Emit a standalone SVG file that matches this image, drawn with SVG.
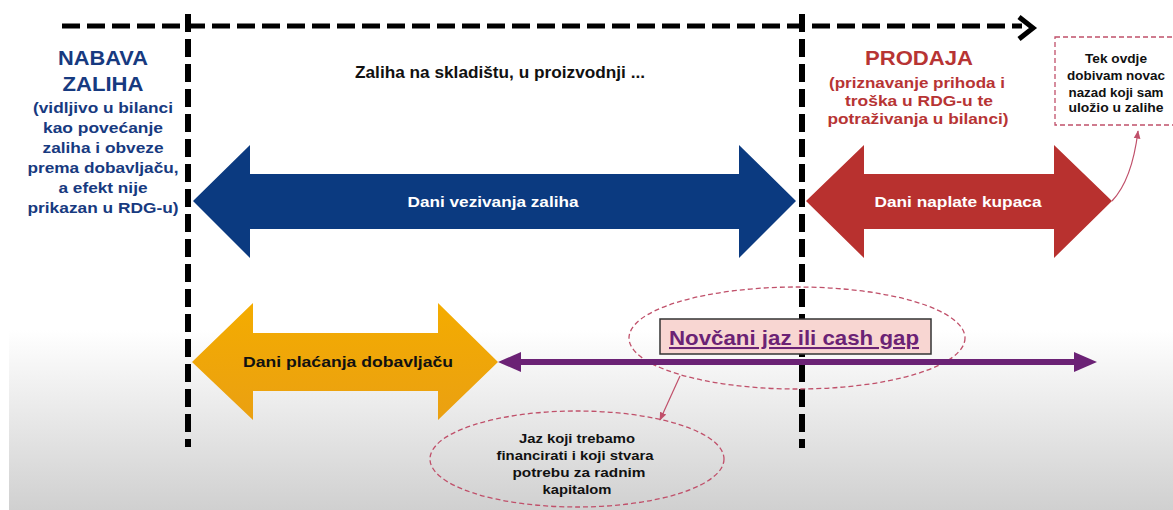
<svg xmlns="http://www.w3.org/2000/svg" width="1173" height="510" viewBox="0 0 1173 510">
<defs>
<linearGradient id="bg" x1="0" y1="0" x2="0" y2="1">
<stop offset="0" stop-color="#ffffff"/>
<stop offset="1" stop-color="#d0d0d0"/>
</linearGradient>
<linearGradient id="og" x1="0" y1="0" x2="0" y2="1">
<stop offset="0" stop-color="#f4ac00"/>
<stop offset="1" stop-color="#eaa012"/>
</linearGradient>
<marker id="thin" viewBox="0 0 10 10" refX="9" refY="5" markerWidth="7" markerHeight="7" orient="auto-start-reverse">
<path d="M0,1 L10,5 L0,9 Z" fill="#c0506a"/>
</marker>
<style>
text{font-family:"Liberation Sans",Arial,sans-serif;font-weight:bold;text-anchor:middle}
.blue{fill:#173a80}
.red{fill:#b73434}
.blk{fill:#111}
.wht{fill:#fff}
.vdash{stroke:#000;stroke-width:6;stroke-dasharray:18 7;fill:none}
.hdash{stroke:#000;stroke-width:5;stroke-dasharray:18 7;fill:none}
.pdash{stroke:#c0506a;stroke-width:1.3;stroke-dasharray:5 3;fill:none}
</style>
</defs>
<rect x="0" y="0" width="1173" height="510" fill="#fff"/>
<rect x="9" y="330" width="1164" height="180" fill="url(#bg)"/>

<g id="axes">
<path class="hdash" d="M62,26 H1022"/>
<path d="M1019,17 L1033,28 L1019,39" fill="none" stroke="#000" stroke-width="5" stroke-linejoin="miter"/>
<path class="vdash" d="M188,14 V447"/>
<path class="vdash" d="M802,14 V448"/>
</g>

<g id="nabava">
<text class="blue" x="103" y="65" font-size="21" textLength="90" lengthAdjust="spacingAndGlyphs">NABAVA</text>
<text class="blue" x="103" y="91" font-size="21" textLength="81" lengthAdjust="spacingAndGlyphs">ZALIHA</text>
<text class="blue" x="103" y="113" font-size="15.5" textLength="140" lengthAdjust="spacingAndGlyphs">(vidljivo u bilanci</text>
<text class="blue" x="103" y="133" font-size="15.5" textLength="120" lengthAdjust="spacingAndGlyphs">kao povećanje</text>
<text class="blue" x="103" y="153" font-size="15.5" textLength="121" lengthAdjust="spacingAndGlyphs">zaliha i obveze</text>
<text class="blue" x="103" y="173" font-size="15.5" textLength="151" lengthAdjust="spacingAndGlyphs">prema dobavljaču,</text>
<text class="blue" x="103" y="193" font-size="15.5" textLength="89" lengthAdjust="spacingAndGlyphs">a efekt nije</text>
<text class="blue" x="103" y="213" font-size="15.5" textLength="151" lengthAdjust="spacingAndGlyphs">prikazan u RDG-u)</text>
</g>

<g id="skladiste">
<text class="blk" x="500" y="78" font-size="16.5" textLength="290" lengthAdjust="spacingAndGlyphs">Zaliha na skladištu, u proizvodnji ...</text>
</g>

<g id="prodaja">
<text class="red" x="919" y="65" font-size="21" textLength="108" lengthAdjust="spacingAndGlyphs">PRODAJA</text>
<text class="red" x="917" y="88" font-size="15.5" textLength="176" lengthAdjust="spacingAndGlyphs">(priznavanje prihoda i</text>
<text class="red" x="919" y="106" font-size="15.5" textLength="148" lengthAdjust="spacingAndGlyphs">troška u RDG-u te</text>
<text class="red" x="918" y="124" font-size="15.5" textLength="181" lengthAdjust="spacingAndGlyphs">potraživanja u bilanci)</text>
</g>

<g id="tek-ovdje">
<rect class="pdash" x="1055" y="37" width="125" height="88"/>
<text class="blk" x="1116" y="63" font-size="12.5" textLength="62" lengthAdjust="spacingAndGlyphs">Tek ovdje</text>
<text class="blk" x="1116" y="80" font-size="12.5" textLength="98" lengthAdjust="spacingAndGlyphs">dobivam novac</text>
<text class="blk" x="1116" y="97" font-size="12.5" textLength="95" lengthAdjust="spacingAndGlyphs">nazad koji sam</text>
<text class="blk" x="1116" y="112" font-size="12.5" textLength="95" lengthAdjust="spacingAndGlyphs">uložio u zalihe</text>
</g>

<g id="dani-vezivanja">
<path d="M193,201 L250,145 L250,174 L739,174 L739,145 L796,201 L739,258 L739,229 L250,229 L250,258 Z" fill="#0b3a80"/>
<text class="wht" x="493" y="207" font-size="15" textLength="171" lengthAdjust="spacingAndGlyphs">Dani vezivanja zaliha</text>
</g>

<g id="dani-naplate">
<path d="M806,201 L864,145 L864,174 L1054,174 L1054,145 L1112,201 L1054,258 L1054,229 L864,229 L864,258 Z" fill="#b8312f"/>
<text class="wht" x="958" y="207" font-size="15" textLength="167" lengthAdjust="spacingAndGlyphs">Dani naplate kupaca</text>
</g>

<g id="dani-placanja">
<path d="M192,362 L253,303 L253,333 L438,333 L438,303 L498,362 L438,420 L438,391 L253,391 L253,420 Z" fill="url(#og)"/>
<text class="blk" x="348" y="367" font-size="15.5" textLength="210" lengthAdjust="spacingAndGlyphs">Dani plaćanja dobavljaču</text>
</g>

<g id="cash-gap">
<ellipse class="pdash" cx="797" cy="338" rx="168" ry="51"/>
<rect x="660" y="319" width="271" height="35" fill="#f8d6d2" stroke="#333" stroke-width="1.5"/>
<text x="794" y="345" font-size="20.5" fill="#6b2275" text-decoration="underline" textLength="250" lengthAdjust="spacingAndGlyphs">Novčani jaz ili cash gap</text>
</g>

<g id="jaz">
<ellipse class="pdash" cx="577" cy="459" rx="147" ry="48"/>
<text class="blk" x="577" y="443" font-size="13.5" textLength="116" lengthAdjust="spacingAndGlyphs">Jaz koji trebamo</text>
<text class="blk" x="575" y="460" font-size="13.5" textLength="157" lengthAdjust="spacingAndGlyphs">financirati i koji stvara</text>
<text class="blk" x="579" y="477" font-size="13.5" textLength="133" lengthAdjust="spacingAndGlyphs">potrebu za radnim</text>
<text class="blk" x="577" y="494" font-size="13.5" textLength="69" lengthAdjust="spacingAndGlyphs">kapitalom</text>
</g>

<g id="connectors">
<path d="M520,362 H1076" stroke="#6b2275" stroke-width="6" fill="none"/>
<path d="M498,362 L521,352 L521,372 Z" fill="#6b2275"/>
<path d="M1097,362 L1074,352 L1074,372 Z" fill="#6b2275"/>
<path d="M1112,201 Q1132,180 1138,131" stroke="#c0506a" stroke-width="1.2" fill="none" marker-end="url(#thin)"/>
<path d="M680,376 L660,420" stroke="#c0506a" stroke-width="1.2" fill="none" marker-end="url(#thin)"/>
</g>
</svg>
